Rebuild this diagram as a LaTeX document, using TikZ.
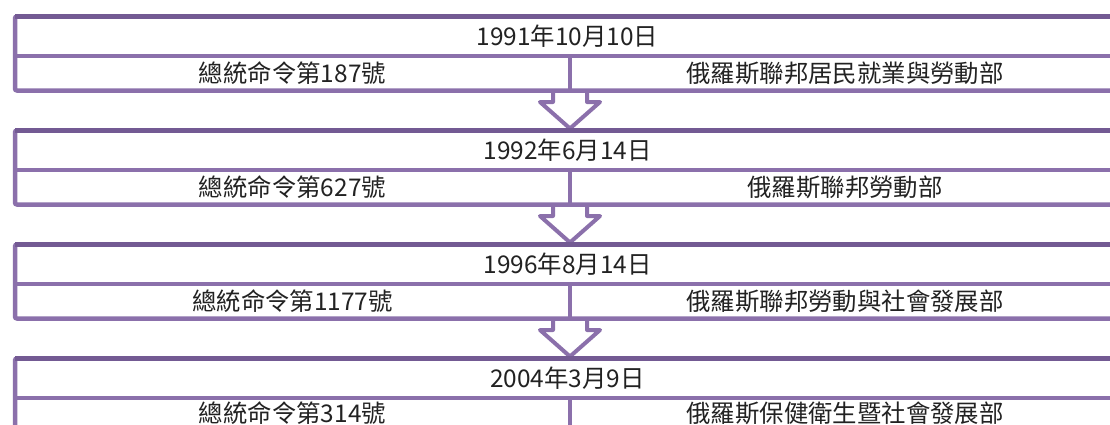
\documentclass[tikz,border=0pt]{standalone}
\usepackage{fontspec}
\setmainfont{Noto Sans CJK TC}
\definecolor{pdark}{HTML}{735A93}
\definecolor{plight}{HTML}{8B70AB}
\definecolor{txtc}{HTML}{222222}
\begin{document}
\begin{tikzpicture}[x=1pt,y=-1pt,
  box/.style={draw=plight,line width=4.5pt,rounded corners=2pt,minimum width=1105pt,minimum height=74pt,inner sep=0pt},
  seg/.style={draw=plight,line width=4.5pt},
  topseg/.style={draw=pdark,line width=4.5pt},
  flowarrow/.style={draw=plight,line width=4pt,line join=round},
  lbl/.style={text=txtc,font=\fontsize{24.4pt}{27pt}\selectfont,inner sep=0pt,anchor=center}]
\useasboundingbox (0,0) rectangle (1110,424);
\clip (0,0) rectangle (1110,424);
% arrows first (behind boxes)
\coordinate (b1s) at (570,90.5);
\coordinate (b2n) at (570,130.5);
\coordinate (b2s) at (570,204.5);
\coordinate (b3n) at (570,244.5);
\coordinate (b3s) at (570,318.5);
\coordinate (b4n) at (570,358.5);
\draw[flowarrow] ([xshift=-17pt]b1s) -- ++(0,11.5) -- ++(-13,0) -- ([yshift=2pt]b2n) -- ++(30,-26.5) -- ++(-13,0) -- ++(0,-11.5);
\draw[flowarrow] ([xshift=-17pt]b2s) -- ++(0,11.5) -- ++(-13,0) -- ([yshift=2pt]b3n) -- ++(30,-26.5) -- ++(-13,0) -- ++(0,-11.5);
\draw[flowarrow] ([xshift=-17pt]b3s) -- ++(0,11.5) -- ++(-13,0) -- ([yshift=2pt]b4n) -- ++(30,-26.5) -- ++(-13,0) -- ++(0,-11.5);
% boxes
\node[box] (b1) at (567.5,53.5) {};
\node[box] (b2) at (567.5,167.5) {};
\node[box] (b3) at (567.5,281.5) {};
\node[box] (b4) at (567.5,395.5) {};
\foreach \t in {16.5,130.5,244.5,358.5}{
  \draw[topseg] (15,\t) -- (1120,\t);
  \draw[seg] (15,\t+39.5) -- (1120,\t+39.5);
  \draw[seg] (570,\t+39.5) -- (570,\t+74);
}
% texts
\node[lbl] (d1) at (567.5,36) {1991年10月10日};
\node[lbl] (l1) at (292.5,73) {總統命令第187號};
\node[lbl] (r1) at (845,73) {俄羅斯聯邦居民就業與勞動部};
\node[lbl] (d2) at (567.5,150) {1992年6月14日};
\node[lbl] (l2) at (292.5,187) {總統命令第627號};
\node[lbl] (r2) at (845,187) {俄羅斯聯邦勞動部};
\node[lbl] (d3) at (567.5,264) {1996年8月14日};
\node[lbl] (l3) at (292.5,301) {總統命令第1177號};
\node[lbl] (r3) at (845,301) {俄羅斯聯邦勞動與社會發展部};
\node[lbl] (d4) at (567.5,378) {2004年3月9日};
\node[lbl] (l4) at (292.5,413) {總統命令第314號};
\node[lbl] (r4) at (845,413) {俄羅斯保健衛生暨社會發展部};
\end{tikzpicture}
\end{document}
